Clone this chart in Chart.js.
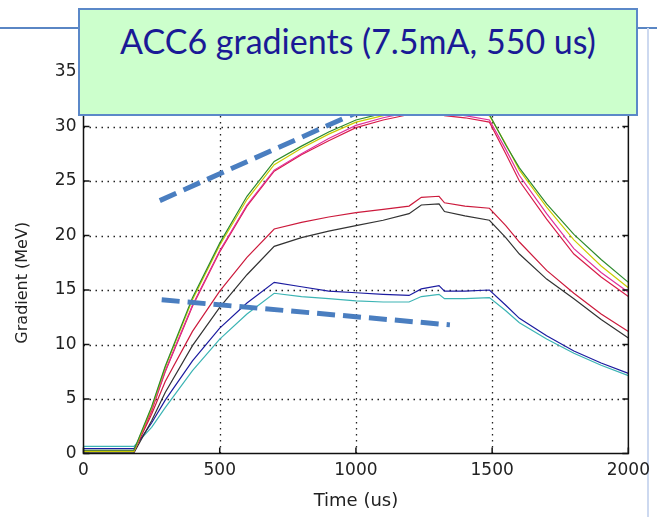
<!DOCTYPE html>
<html>
<head>
<meta charset="utf-8">
<script src="https://cdn.jsdelivr.net/npm/chart.js@4/dist/chart.umd.min.js"></script>
<style>
  html, body { margin: 0; padding: 0; background: #ffffff; }
  #wrap { position: relative; width: 657px; height: 517px; overflow: hidden; background: #fff; }
  #c { position: absolute; left: 0; top: 0; }
  #hline { position: absolute; left: 0; top: 27px; width: 657px; height: 2px; background: #5a86c4; }
  #vline { position: absolute; left: 647px; top: 28px; width: 2px; height: 489px; background: #cdd9f0; }
  #titlebox { position: absolute; left: 78px; top: 8px; width: 556px; height: 104px;
    background: #ccffcc; border: 2px solid #5b88c8; }
  #titlebox span { position: absolute; left: 0; right: 0; top: 10px; text-align: center;
    font-family: Lato, "Open Sans", sans-serif; font-size: 34px; color: #1a1a96; white-space: nowrap; }
</style>
</head>
<body>
<div id="wrap">
  <div id="hline"></div>
  <div id="vline"></div>
  <canvas id="c" width="657" height="517"></canvas>
  <div id="titlebox"><span>ACC6 gradients (7.5mA, 550 us)</span></div>
</div>
<script>
// ---- data ----
const TIME_US = [0,185,250,300,400,500,600,700,800,900,1000,1100,1195,1240,1305,1325,1400,1490,1550,1600,1700,1800,1900,2000];
const GREEN   = [0.3,0.3,4.3,8.0,14.3,19.3,23.6,26.8,28.2,29.5,30.6,31.2,31.7,32.0,32.1,31.8,31.5,31.1,28.3,26.2,22.9,20.1,17.8,15.7];
const YELLOW  = [0.2,0.2,4.2,7.9,14.1,19.1,23.3,26.5,28.0,29.3,30.4,31.0,31.5,31.8,31.9,31.6,31.3,31.0,28.4,26.0,22.6,19.6,17.2,15.2];
const MAGENTA = [0.25,0.25,4.0,7.6,13.6,18.6,22.8,26.0,27.5,28.9,30.1,30.8,31.3,31.6,31.7,31.3,31.0,30.6,27.9,25.5,22.0,18.8,16.6,14.8];
const CRIMSON = [0.2,0.2,3.9,7.5,13.5,18.5,22.7,25.9,27.4,28.7,29.9,30.6,31.1,31.4,31.5,31.0,30.8,30.4,27.5,25.0,21.5,18.3,16.2,14.4];
const RED     = [0.2,0.2,3.6,6.6,11.2,14.9,18.0,20.6,21.2,21.7,22.1,22.4,22.7,23.5,23.6,23.0,22.7,22.5,20.9,19.4,16.8,14.7,12.8,11.2];
const BLACK   = [0.05,0.05,3.0,5.6,9.9,13.4,16.4,19.0,19.8,20.4,20.9,21.4,22.0,22.8,22.9,22.2,21.8,21.4,19.8,18.3,16.0,14.2,12.3,10.6];
const BLUE    = [0.45,0.45,2.8,4.9,8.5,11.5,13.8,15.7,15.3,14.9,14.75,14.6,14.5,15.1,15.4,14.9,14.9,15.0,13.6,12.4,10.8,9.4,8.3,7.35];
const CYAN    = [0.65,0.65,2.4,4.2,7.6,10.5,12.8,14.7,14.4,14.2,14.0,13.9,13.9,14.4,14.6,14.2,14.2,14.3,13.1,12.0,10.5,9.2,8.1,7.15];

const TREND_UPPER_T = [280, 1000];
const TREND_UPPER_V = [23.2, 31.25];
const TREND_LOWER_T = [287, 1345];
const TREND_LOWER_V = [14.1, 11.8];

const X_TICKS = [0, 500, 1000, 1500, 2000];
const Y_TICKS = [0, 5, 10, 15, 20, 25, 30, 35];
const X_TITLE = 'Time (us)';
const Y_TITLE = 'Gradient (MeV)';

// ---- build ----
const pts = (xs, ys) => xs.map((x, i) => ({x: x, y: ys[i]}));
const series = [
  {v: CYAN,    c: '#3cb4b4'},
  {v: BLUE,    c: '#1c1ca0'},
  {v: BLACK,   c: '#333333'},
  {v: RED,     c: '#cc1a3c'},
  {v: CRIMSON, c: '#d81e4a'},
  {v: MAGENTA, c: '#e0309a'},
  {v: YELLOW,  c: '#cccc00'},
  {v: GREEN,   c: '#2e8b2e'}
];
const datasets = [];
datasets.push({data: pts(TREND_UPPER_T, TREND_UPPER_V), borderColor: '#4a7ec0', borderWidth: 5, borderDash: [18, 8], order: 0, pointRadius: 0});
datasets.push({data: pts(TREND_LOWER_T, TREND_LOWER_V), borderColor: '#4a7ec0', borderWidth: 5, borderDash: [18, 8], order: 0, pointRadius: 0});
series.forEach((s, i) => {
  datasets.push({data: pts(TIME_US, s.v), borderColor: s.c, borderWidth: 1.2, order: 10 - i, pointRadius: 0});
});

const labelFont = '"DejaVu Sans", "Liberation Sans", sans-serif';

const axesPlugin = {
  id: 'matlabAxes',
  beforeDatasetsDraw(chart) {
    const {ctx, chartArea: {left, right, top, bottom}, scales: {x, y}} = chart;
    ctx.save();
    ctx.strokeStyle = '#222';
    ctx.lineWidth = 1.3;
    ctx.setLineDash([1.5, 4.5]);
    X_TICKS.slice(1, -1).forEach(v => {
      const p = Math.round(x.getPixelForValue(v)) + 0.5;
      ctx.beginPath(); ctx.moveTo(p, bottom); ctx.lineTo(p, top); ctx.stroke();
    });
    Y_TICKS.slice(1, -1).forEach(v => {
      const p = Math.round(y.getPixelForValue(v)) + 0.5;
      ctx.beginPath(); ctx.moveTo(left, p); ctx.lineTo(right, p); ctx.stroke();
    });
    ctx.restore();
  },
  afterDatasetsDraw(chart) {
    const {ctx, chartArea: {left, right, top, bottom}, scales: {x, y}} = chart;
    ctx.save();
    ctx.strokeStyle = '#111';
    ctx.lineWidth = 1.5;
    ctx.setLineDash([]);
    ctx.strokeRect(left, top, right - left, bottom - top);
    const tl = 6;
    X_TICKS.forEach(v => {
      const p = x.getPixelForValue(v);
      ctx.beginPath(); ctx.moveTo(p, bottom); ctx.lineTo(p, bottom - tl); ctx.stroke();
      ctx.beginPath(); ctx.moveTo(p, top); ctx.lineTo(p, top + tl); ctx.stroke();
    });
    Y_TICKS.forEach(v => {
      const p = y.getPixelForValue(v);
      ctx.beginPath(); ctx.moveTo(left, p); ctx.lineTo(left + tl, p); ctx.stroke();
      ctx.beginPath(); ctx.moveTo(right, p); ctx.lineTo(right - tl, p); ctx.stroke();
    });
    // y-axis title, centred a little below the axis middle as in the reference
    ctx.fillStyle = '#222';
    ctx.font = '16px ' + labelFont;
    ctx.textAlign = 'center';
    ctx.textBaseline = 'middle';
    ctx.translate(23, (top + bottom) / 2 + 20);
    ctx.rotate(-Math.PI / 2);
    ctx.fillText(Y_TITLE, 0, 0);
    ctx.restore();
  }
};

const tickFont = {family: labelFont, size: 17};
new Chart(document.getElementById('c'), {
  type: 'line',
  data: {datasets: datasets},
  options: {
    responsive: false,
    animation: false,
    events: [],
    layout: {padding: {left: 0, right: 25, top: 72, bottom: 0}},
    plugins: {legend: {display: false}, tooltip: {enabled: false}},
    elements: {line: {tension: 0}},
    scales: {
      x: {
        type: 'linear', min: 0, max: 2000,
        afterBuildTicks: s => { s.ticks = X_TICKS.map(v => ({value: v})); },
        afterFit: s => { s.height = 63.5; },
        grid: {display: false, drawTicks: false, tickLength: 0},
        border: {display: false},
        ticks: {color: '#222', font: tickFont, padding: 7, maxRotation: 0, autoSkip: false, callback: v => String(v)},
        title: {display: true, text: X_TITLE, color: '#222', font: {family: labelFont, size: 18}, padding: {top: 0, bottom: 5}}
      },
      y: {
        type: 'linear', min: 0, max: 35,
        afterBuildTicks: s => { s.ticks = Y_TICKS.map(v => ({value: v})); },
        afterFit: s => { s.width = 83.5; },
        grid: {display: false, drawTicks: false, tickLength: 0},
        border: {display: false},
        ticks: {color: '#222', font: tickFont, padding: 7, autoSkip: false, callback: v => String(v)},
        title: {display: false}
      }
    }
  },
  plugins: [axesPlugin]
});
</script>
</body>
</html>
